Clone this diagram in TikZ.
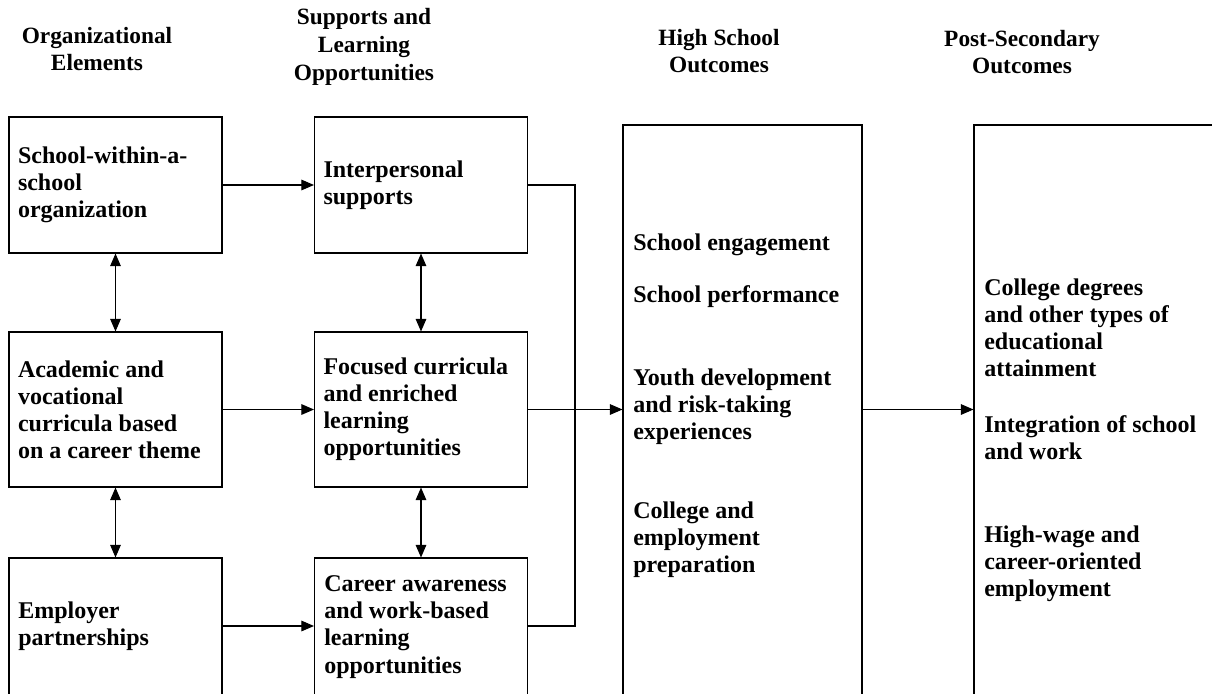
\documentclass[tikz,border=0pt]{standalone}
\usepackage{fontspec}
\setmainfont{Liberation Serif}
\usetikzlibrary{arrows.meta}
\tikzset{
  boxtxt/.style={font=\fontsize{18}{20.3}\bfseries\selectfont},
  box/.style={boxtxt, draw, line width=0.8pt, minimum width=159.75pt, inner xsep=6.75pt, inner ysep=0pt, text width=146.25pt, align=flush left},
  bigbox/.style={draw, line width=0.8pt, inner sep=0pt},
  inlabel/.style={boxtxt, anchor=west, align=left, inner sep=0pt},
  header/.style={font=\fontsize{17.5}{20.8}\bfseries\selectfont, align=center, inner sep=0pt},
  arr/.style={line width=0.8pt, -{Triangle[length=9.5pt,width=8pt]}},
  darr/.style={line width=0.8pt, {Triangle[length=9.5pt,width=8pt]}-{Triangle[length=9.5pt,width=8pt]}},
  conn/.style={line width=0.8pt}
}
\begin{document}
\begin{tikzpicture}[x=0.75pt,y=-0.75pt]
\clip (0,0) rectangle (1212,693);
\fill[white] (0,0) rectangle (1212,693);
% headers
\node[header] (h1) at (97,49) {Organizational\\Elements};
\node[header] (h2) at (364,47) {Supports and\\Learning\\Opportunities};
\node[header] (h3) at (719,51) {High School\\Outcomes};
\node[header] (h4) at (1022,52) {Post-Secondary\\Outcomes};
% column 1
\node[box, minimum height=102pt] (a1) at (115.5,185) {School-within-a-\\school\\organization};
\node[box, minimum height=116.25pt] (a2) at (115.5,409.5) {Academic and\\vocational\\curricula based\\on a career theme};
\node[box, minimum height=108pt] (a3) at (115.5,630) {};
\node[inlabel] (a3t) at (18,626) {Employer\\partnerships};
% column 2
\node[box, minimum height=102pt] (b1) at (421,185) {Interpersonal\\supports};
\node[box, minimum height=116.25pt] (b2) at (421,409.5) {Focused curricula\\and enriched\\learning\\opportunities};
\node[box, minimum height=108pt] (b3) at (421,630) {};
\node[inlabel] (b3t) at (324,627) {Career awareness\\and work-based\\learning\\opportunities};
% big boxes
\node[bigbox, minimum width=179.25pt, minimum height=431.25pt] (hs) at (742.5,412.5) {};
\node[bigbox, minimum width=207pt, minimum height=431.25pt] (ps) at (1112,412.5) {};
% HS texts
\node[inlabel] (t1) at (633,245) {School engagement};
\node[inlabel] (t2) at (633,297) {School performance};
\node[inlabel] (t3) at (633,407) {Youth development\\and risk-taking\\experiences};
\node[inlabel] (t4) at (633,540) {College and\\employment\\preparation};
% PS texts
\node[inlabel] (p1) at (984,328) {College degrees\\and other types of\\educational\\attainment};
\node[inlabel] (p2) at (984,438) {Integration of school\\and work};
\node[inlabel] (p3) at (984,564) {High-wage and\\career-oriented\\employment};
% connectors
\coordinate (r3) at (0,626);
\draw[arr] (a1.east) -- (b1.west);
\draw[arr] (a2.east) -- (b2.west);
\draw[arr] (a3.east |- r3) -- (b3.west |- r3);
\draw[darr] (a1.south) -- (a2.north);
\draw[darr] (a2.south) -- (a3.north);
\draw[darr] (b1.south) -- (b2.north);
\draw[darr] (b2.south) -- (b3.north);
\coordinate (bus) at (575,409.5);
\draw[conn] (b1.east) -- (b1.east -| bus) -- (bus |- r3) -- (b3.east |- r3);
\draw[arr] (b2.east) -- (b2.east -| hs.west);
\draw[arr] (b2.east -| hs.east) -- (b2.east -| ps.west);
\end{tikzpicture}
\end{document}
